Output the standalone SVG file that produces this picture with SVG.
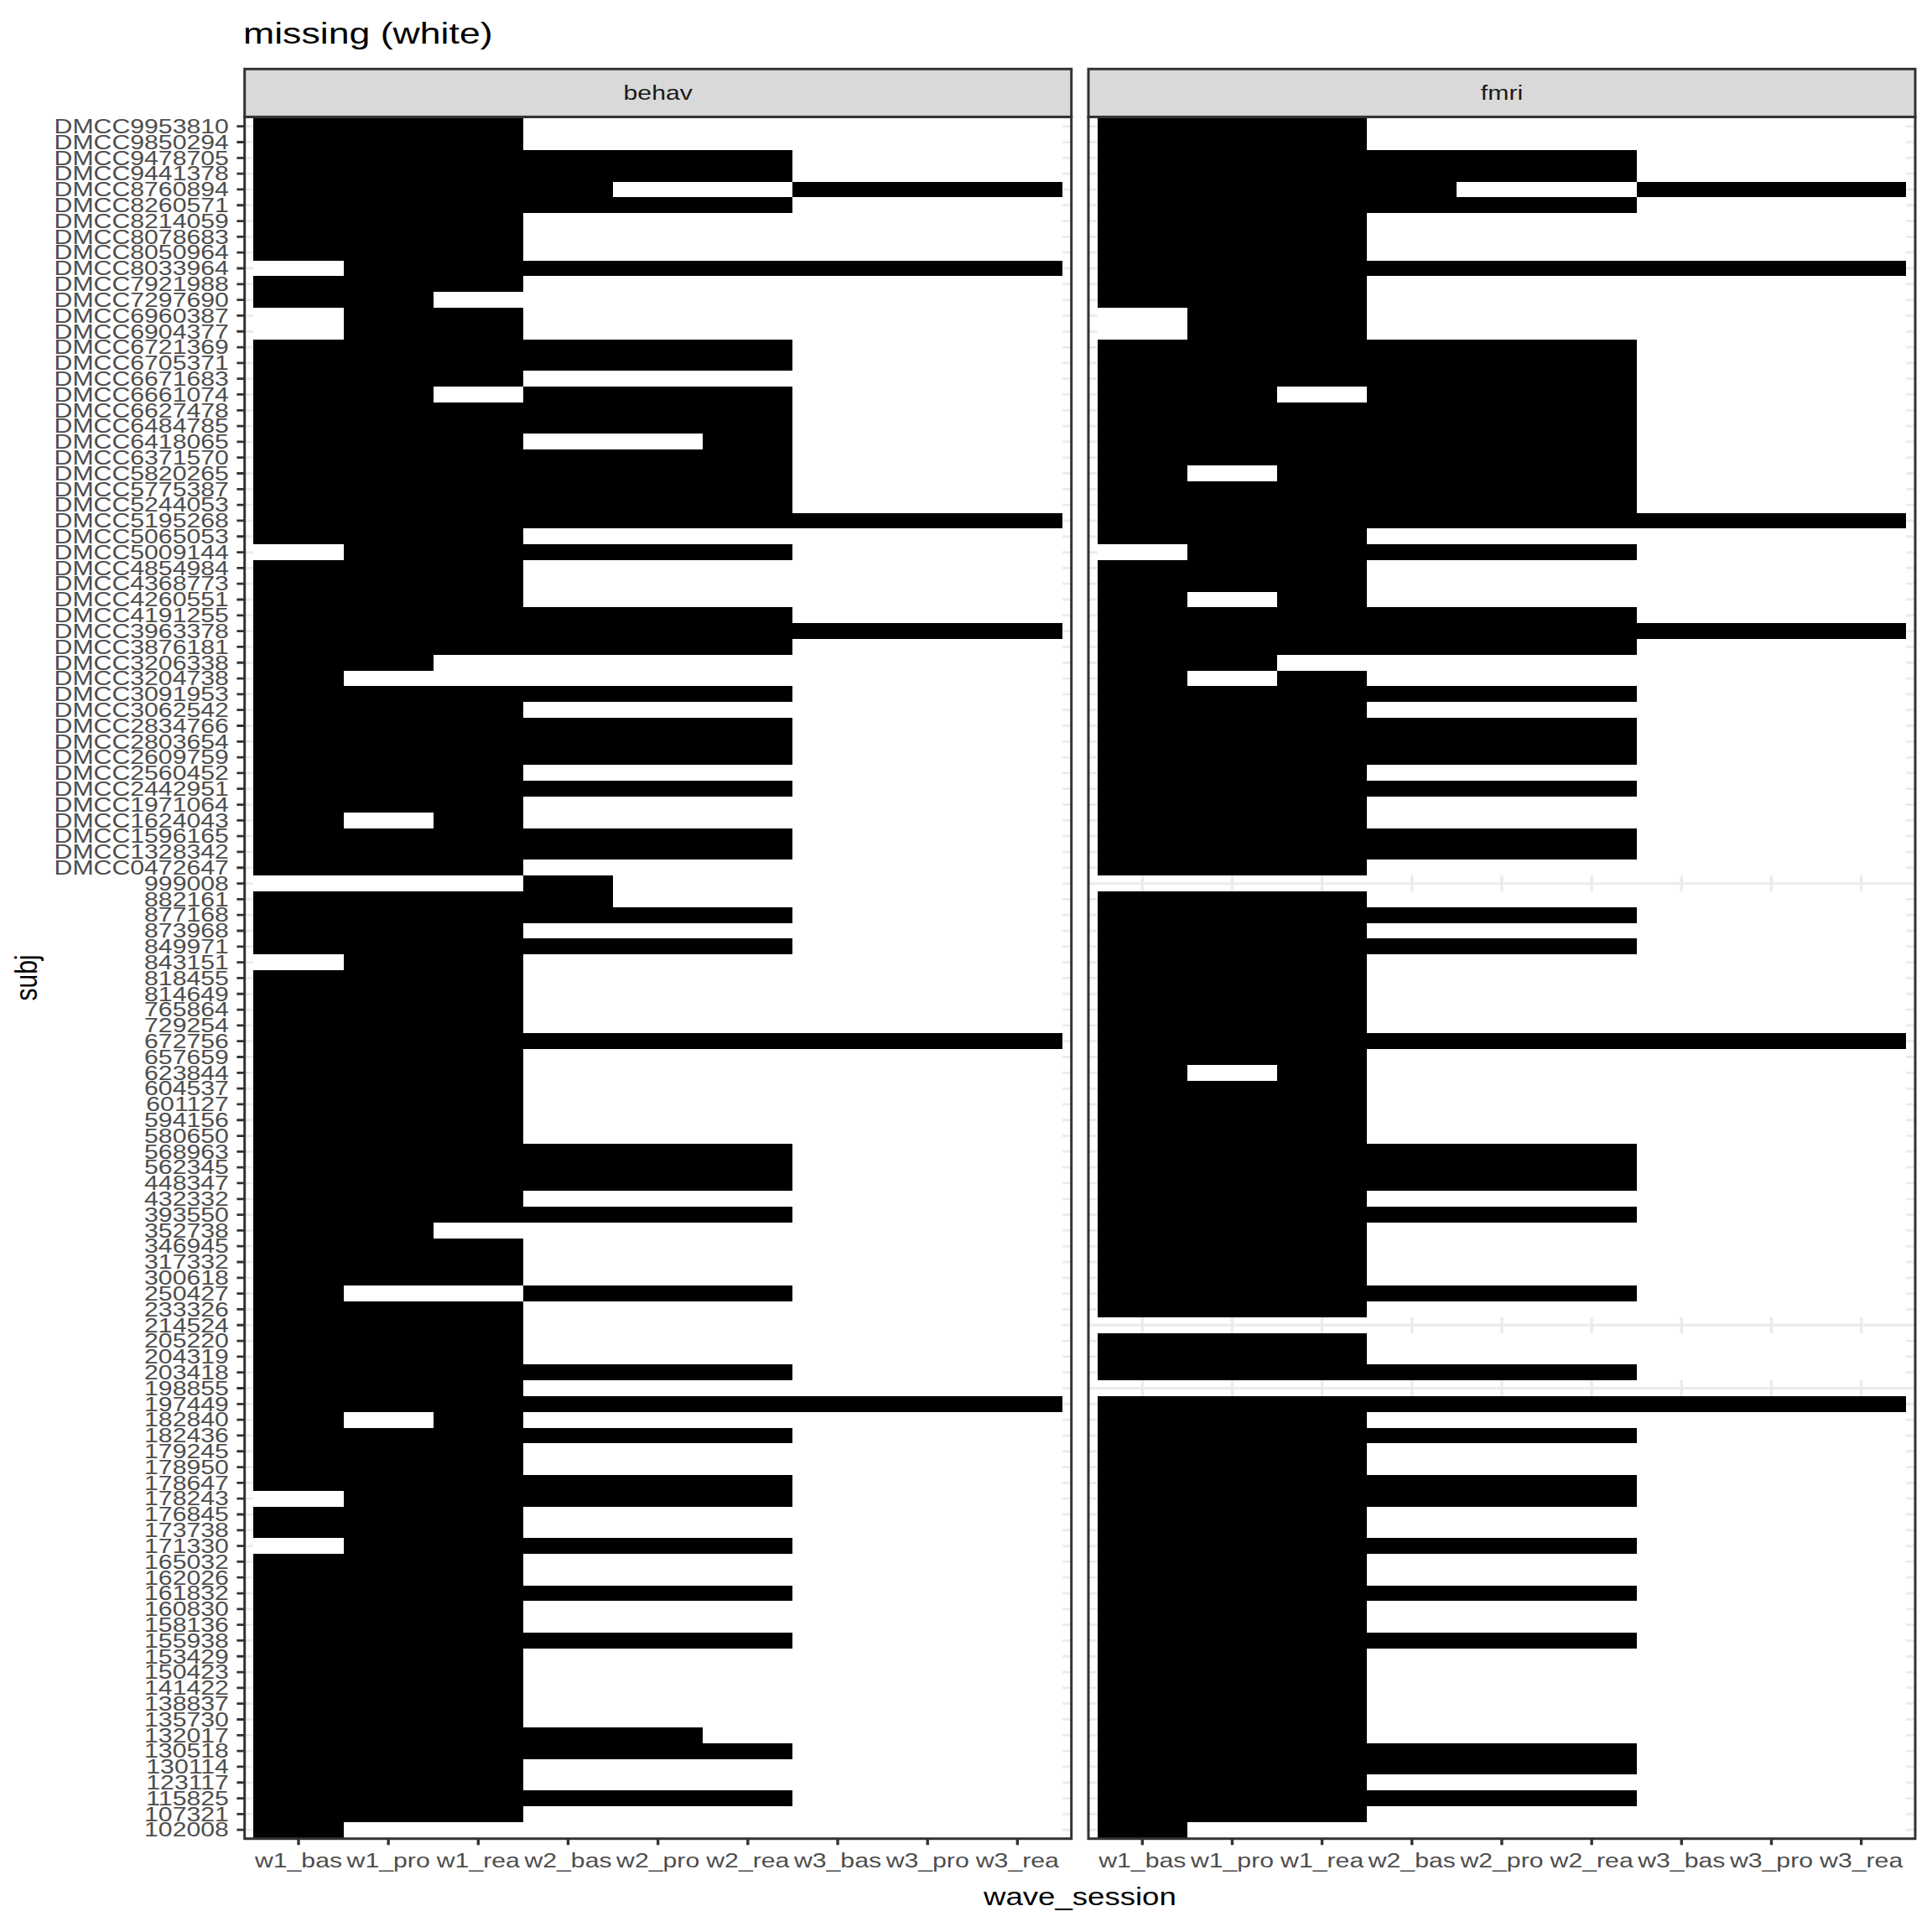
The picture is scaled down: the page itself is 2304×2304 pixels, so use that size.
<svg xmlns="http://www.w3.org/2000/svg" xmlns:xlink="http://www.w3.org/1999/xlink" width="2304" height="2304" viewBox="0 0 2304 2304">
<style>
text{font-family:"Liberation Sans",Arial,Helvetica,sans-serif}
.gh{stroke:#EBEBEB;stroke-width:2.8;fill:none}
.gv{stroke:#EBEBEB;stroke-width:3.4;fill:none}
.tk{stroke:#333333;stroke-width:2.8;fill:none}
.tkx{stroke:#333333;stroke-width:3.4;fill:none}
.border{fill:none;stroke:#333333;stroke-width:3}
.strip{fill:#D9D9D9;stroke:#333333;stroke-width:3}
.bg{fill:#FFFFFF}
.tiles rect{fill:#000000}
.tiles rect.w{fill:#FFFFFF}
.ylab text{font-size:24px;fill:#4D4D4D;text-anchor:end}
.xlab text{font-size:24px;fill:#4D4D4D;text-anchor:middle}
.stxt{font-size:24px;fill:#1A1A1A;text-anchor:middle}
.atitle{font-size:30px;fill:#000000;text-anchor:middle}
</style>
<defs>
<path id="rows" d="M0 150.70H986M0 169.51H986M0 188.32H986M0 207.13H986M0 225.94H986M0 244.75H986M0 263.56H986M0 282.37H986M0 301.18H986M0 319.99H986M0 338.80H986M0 357.61H986M0 376.42H986M0 395.23H986M0 414.04H986M0 432.85H986M0 451.66H986M0 470.47H986M0 489.28H986M0 508.09H986M0 526.90H986M0 545.71H986M0 564.52H986M0 583.33H986M0 602.14H986M0 620.95H986M0 639.76H986M0 658.57H986M0 677.38H986M0 696.19H986M0 715.00H986M0 733.81H986M0 752.62H986M0 771.43H986M0 790.24H986M0 809.05H986M0 827.86H986M0 846.67H986M0 865.48H986M0 884.29H986M0 903.10H986M0 921.91H986M0 940.72H986M0 959.53H986M0 978.34H986M0 997.15H986M0 1015.96H986M0 1034.77H986M0 1053.58H986M0 1072.39H986M0 1091.20H986M0 1110.01H986M0 1128.82H986M0 1147.63H986M0 1166.44H986M0 1185.25H986M0 1204.06H986M0 1222.87H986M0 1241.68H986M0 1260.49H986M0 1279.30H986M0 1298.11H986M0 1316.92H986M0 1335.73H986M0 1354.54H986M0 1373.35H986M0 1392.16H986M0 1410.97H986M0 1429.78H986M0 1448.59H986M0 1467.40H986M0 1486.21H986M0 1505.02H986M0 1523.83H986M0 1542.64H986M0 1561.45H986M0 1580.26H986M0 1599.07H986M0 1617.88H986M0 1636.69H986M0 1655.50H986M0 1674.31H986M0 1693.12H986M0 1711.93H986M0 1730.74H986M0 1749.55H986M0 1768.36H986M0 1787.17H986M0 1805.98H986M0 1824.79H986M0 1843.60H986M0 1862.41H986M0 1881.22H986M0 1900.03H986M0 1918.84H986M0 1937.65H986M0 1956.46H986M0 1975.27H986M0 1994.08H986M0 2012.89H986M0 2031.70H986M0 2050.51H986M0 2069.32H986M0 2088.13H986M0 2106.94H986M0 2125.75H986M0 2144.56H986M0 2163.37H986M0 2182.18H986"/>
<path id="cols" d="M64.30 139.4V2192.7M171.47 139.4V2192.7M278.64 139.4V2192.7M385.81 139.4V2192.7M492.98 139.4V2192.7M600.15 139.4V2192.7M707.32 139.4V2192.7M814.49 139.4V2192.7M921.66 139.4V2192.7"/>
</defs>
<rect width="2304" height="2304" fill="#FFFFFF"/>

<g id="panel-behav">
<rect class="bg" x="291.7" y="139.4" width="986" height="2053.3"/>
<use xlink:href="#rows" class="gh" transform="translate(291.7,0)"/>
<use xlink:href="#cols" class="gv" transform="translate(291.7,0)"/>
<g class="tiles" transform="translate(302.42,141.29) scale(107.17,18.81)" shape-rendering="crispEdges">
<rect class="w" x="0" y="0" width="9" height="109"/>
<rect x="0" y="0" width="3" height="2"/>
<rect x="0" y="2" width="6" height="2"/>
<rect x="0" y="4" width="4" height="1"/><rect x="6" y="4" width="3" height="1"/>
<rect x="0" y="5" width="6" height="1"/>
<rect x="0" y="6" width="3" height="3"/>
<rect x="1" y="9" width="8" height="1"/>
<rect x="0" y="10" width="3" height="1"/>
<rect x="0" y="11" width="2" height="1"/>
<rect x="1" y="12" width="2" height="2"/>
<rect x="0" y="14" width="6" height="2"/>
<rect x="0" y="16" width="3" height="1"/>
<rect x="0" y="17" width="2" height="1"/><rect x="3" y="17" width="3" height="1"/>
<rect x="0" y="18" width="6" height="2"/>
<rect x="0" y="20" width="3" height="1"/><rect x="5" y="20" width="1" height="1"/>
<rect x="0" y="21" width="6" height="4"/>
<rect x="0" y="25" width="9" height="1"/>
<rect x="0" y="26" width="3" height="1"/>
<rect x="1" y="27" width="5" height="1"/>
<rect x="0" y="28" width="3" height="3"/>
<rect x="0" y="31" width="6" height="1"/>
<rect x="0" y="32" width="9" height="1"/>
<rect x="0" y="33" width="6" height="1"/>
<rect x="0" y="34" width="2" height="1"/>
<rect x="0" y="35" width="1" height="1"/>
<rect x="0" y="36" width="6" height="1"/>
<rect x="0" y="37" width="3" height="1"/>
<rect x="0" y="38" width="6" height="3"/>
<rect x="0" y="41" width="3" height="1"/>
<rect x="0" y="42" width="6" height="1"/>
<rect x="0" y="43" width="3" height="1"/>
<rect x="0" y="44" width="1" height="1"/><rect x="2" y="44" width="1" height="1"/>
<rect x="0" y="45" width="6" height="2"/>
<rect x="0" y="47" width="3" height="1"/>
<rect x="3" y="48" width="1" height="1"/>
<rect x="0" y="49" width="4" height="1"/>
<rect x="0" y="50" width="6" height="1"/>
<rect x="0" y="51" width="3" height="1"/>
<rect x="0" y="52" width="6" height="1"/>
<rect x="1" y="53" width="2" height="1"/>
<rect x="0" y="54" width="3" height="4"/>
<rect x="0" y="58" width="9" height="1"/>
<rect x="0" y="59" width="3" height="6"/>
<rect x="0" y="65" width="6" height="3"/>
<rect x="0" y="68" width="3" height="1"/>
<rect x="0" y="69" width="6" height="1"/>
<rect x="0" y="70" width="2" height="1"/>
<rect x="0" y="71" width="3" height="3"/>
<rect x="0" y="74" width="1" height="1"/><rect x="3" y="74" width="3" height="1"/>
<rect x="0" y="75" width="3" height="4"/>
<rect x="0" y="79" width="6" height="1"/>
<rect x="0" y="80" width="3" height="1"/>
<rect x="0" y="81" width="9" height="1"/>
<rect x="0" y="82" width="1" height="1"/><rect x="2" y="82" width="1" height="1"/>
<rect x="0" y="83" width="6" height="1"/>
<rect x="0" y="84" width="3" height="2"/>
<rect x="0" y="86" width="6" height="1"/>
<rect x="1" y="87" width="5" height="1"/>
<rect x="0" y="88" width="3" height="2"/>
<rect x="1" y="90" width="5" height="1"/>
<rect x="0" y="91" width="3" height="2"/>
<rect x="0" y="93" width="6" height="1"/>
<rect x="0" y="94" width="3" height="2"/>
<rect x="0" y="96" width="6" height="1"/>
<rect x="0" y="97" width="3" height="5"/>
<rect x="0" y="102" width="5" height="1"/>
<rect x="0" y="103" width="6" height="1"/>
<rect x="0" y="104" width="3" height="2"/>
<rect x="0" y="106" width="6" height="1"/>
<rect x="0" y="107" width="3" height="1"/>
<rect x="0" y="108" width="1" height="1"/>
</g>
<rect class="border" x="291.7" y="139.4" width="986" height="2053.3"/>
</g>

<g id="panel-fmri">
<rect class="bg" x="1298" y="139.4" width="986" height="2053.3"/>
<use xlink:href="#rows" class="gh" transform="translate(1298,0)"/>
<use xlink:href="#cols" class="gv" transform="translate(1298,0)"/>
<g class="tiles" transform="translate(1308.72,141.29) scale(107.17,18.81)" shape-rendering="crispEdges">
<rect class="w" x="0" y="0" width="9" height="48"/>
<rect class="w" x="0" y="49" width="9" height="27"/>
<rect class="w" x="0" y="77" width="9" height="3"/>
<rect class="w" x="0" y="81" width="9" height="28"/>
<rect x="0" y="0" width="3" height="2"/>
<rect x="0" y="2" width="6" height="2"/>
<rect x="0" y="4" width="4" height="1"/><rect x="6" y="4" width="3" height="1"/>
<rect x="0" y="5" width="6" height="1"/>
<rect x="0" y="6" width="3" height="3"/>
<rect x="0" y="9" width="9" height="1"/>
<rect x="0" y="10" width="3" height="2"/>
<rect x="1" y="12" width="2" height="2"/>
<rect x="0" y="14" width="6" height="3"/>
<rect x="0" y="17" width="2" height="1"/><rect x="3" y="17" width="3" height="1"/>
<rect x="0" y="18" width="6" height="4"/>
<rect x="0" y="22" width="1" height="1"/><rect x="2" y="22" width="4" height="1"/>
<rect x="0" y="23" width="6" height="2"/>
<rect x="0" y="25" width="9" height="1"/>
<rect x="0" y="26" width="3" height="1"/>
<rect x="1" y="27" width="5" height="1"/>
<rect x="0" y="28" width="3" height="2"/>
<rect x="0" y="30" width="1" height="1"/><rect x="2" y="30" width="1" height="1"/>
<rect x="0" y="31" width="6" height="1"/>
<rect x="0" y="32" width="9" height="1"/>
<rect x="0" y="33" width="6" height="1"/>
<rect x="0" y="34" width="2" height="1"/>
<rect x="0" y="35" width="1" height="1"/><rect x="2" y="35" width="1" height="1"/>
<rect x="0" y="36" width="6" height="1"/>
<rect x="0" y="37" width="3" height="1"/>
<rect x="0" y="38" width="6" height="3"/>
<rect x="0" y="41" width="3" height="1"/>
<rect x="0" y="42" width="6" height="1"/>
<rect x="0" y="43" width="3" height="2"/>
<rect x="0" y="45" width="6" height="2"/>
<rect x="0" y="47" width="3" height="1"/>
<rect x="0" y="49" width="3" height="1"/>
<rect x="0" y="50" width="6" height="1"/>
<rect x="0" y="51" width="3" height="1"/>
<rect x="0" y="52" width="6" height="1"/>
<rect x="0" y="53" width="3" height="5"/>
<rect x="0" y="58" width="9" height="1"/>
<rect x="0" y="59" width="3" height="1"/>
<rect x="0" y="60" width="1" height="1"/><rect x="2" y="60" width="1" height="1"/>
<rect x="0" y="61" width="3" height="4"/>
<rect x="0" y="65" width="6" height="3"/>
<rect x="0" y="68" width="3" height="1"/>
<rect x="0" y="69" width="6" height="1"/>
<rect x="0" y="70" width="3" height="4"/>
<rect x="0" y="74" width="6" height="1"/>
<rect x="0" y="75" width="3" height="1"/>
<rect x="0" y="77" width="3" height="2"/>
<rect x="0" y="79" width="6" height="1"/>
<rect x="0" y="81" width="9" height="1"/>
<rect x="0" y="82" width="3" height="1"/>
<rect x="0" y="83" width="6" height="1"/>
<rect x="0" y="84" width="3" height="2"/>
<rect x="0" y="86" width="6" height="2"/>
<rect x="0" y="88" width="3" height="2"/>
<rect x="0" y="90" width="6" height="1"/>
<rect x="0" y="91" width="3" height="2"/>
<rect x="0" y="93" width="6" height="1"/>
<rect x="0" y="94" width="3" height="2"/>
<rect x="0" y="96" width="6" height="1"/>
<rect x="0" y="97" width="3" height="6"/>
<rect x="0" y="103" width="6" height="2"/>
<rect x="0" y="105" width="3" height="1"/>
<rect x="0" y="106" width="6" height="1"/>
<rect x="0" y="107" width="3" height="1"/>
<rect x="0" y="108" width="1" height="1"/>
</g>
<rect class="border" x="1298" y="139.4" width="986" height="2053.3"/>
</g>

<g id="strip-behav">
<rect class="strip" x="291.7" y="82.3" width="986" height="57.1"/>
<text class="stxt" transform="translate(784.7,119.4) scale(1.26,1)">behav</text>
</g>
<g id="strip-fmri">
<rect class="strip" x="1298" y="82.3" width="986" height="57.1"/>
<text class="stxt" transform="translate(1791,119.4) scale(1.26,1)">fmri</text>
</g>

<g id="axis-y">
<use xlink:href="#rows" class="tk" transform="translate(282.4,0) scale(0.00943,1)"/>
<g class="ylab" transform="scale(1.26,1)">
<text x="216.6" y="159.00">DMCC9953810</text>
<text x="216.6" y="177.81">DMCC9850294</text>
<text x="216.6" y="196.62">DMCC9478705</text>
<text x="216.6" y="215.43">DMCC9441378</text>
<text x="216.6" y="234.24">DMCC8760894</text>
<text x="216.6" y="253.05">DMCC8260571</text>
<text x="216.6" y="271.86">DMCC8214059</text>
<text x="216.6" y="290.67">DMCC8078683</text>
<text x="216.6" y="309.48">DMCC8050964</text>
<text x="216.6" y="328.29">DMCC8033964</text>
<text x="216.6" y="347.10">DMCC7921988</text>
<text x="216.6" y="365.91">DMCC7297690</text>
<text x="216.6" y="384.72">DMCC6960387</text>
<text x="216.6" y="403.53">DMCC6904377</text>
<text x="216.6" y="422.34">DMCC6721369</text>
<text x="216.6" y="441.15">DMCC6705371</text>
<text x="216.6" y="459.96">DMCC6671683</text>
<text x="216.6" y="478.77">DMCC6661074</text>
<text x="216.6" y="497.58">DMCC6627478</text>
<text x="216.6" y="516.39">DMCC6484785</text>
<text x="216.6" y="535.20">DMCC6418065</text>
<text x="216.6" y="554.01">DMCC6371570</text>
<text x="216.6" y="572.82">DMCC5820265</text>
<text x="216.6" y="591.63">DMCC5775387</text>
<text x="216.6" y="610.44">DMCC5244053</text>
<text x="216.6" y="629.25">DMCC5195268</text>
<text x="216.6" y="648.06">DMCC5065053</text>
<text x="216.6" y="666.87">DMCC5009144</text>
<text x="216.6" y="685.68">DMCC4854984</text>
<text x="216.6" y="704.49">DMCC4368773</text>
<text x="216.6" y="723.30">DMCC4260551</text>
<text x="216.6" y="742.11">DMCC4191255</text>
<text x="216.6" y="760.92">DMCC3963378</text>
<text x="216.6" y="779.73">DMCC3876181</text>
<text x="216.6" y="798.54">DMCC3206338</text>
<text x="216.6" y="817.35">DMCC3204738</text>
<text x="216.6" y="836.16">DMCC3091953</text>
<text x="216.6" y="854.97">DMCC3062542</text>
<text x="216.6" y="873.78">DMCC2834766</text>
<text x="216.6" y="892.59">DMCC2803654</text>
<text x="216.6" y="911.40">DMCC2609759</text>
<text x="216.6" y="930.21">DMCC2560452</text>
<text x="216.6" y="949.02">DMCC2442951</text>
<text x="216.6" y="967.83">DMCC1971064</text>
<text x="216.6" y="986.64">DMCC1624043</text>
<text x="216.6" y="1005.45">DMCC1596165</text>
<text x="216.6" y="1024.26">DMCC1328342</text>
<text x="216.6" y="1043.07">DMCC0472647</text>
<text x="216.6" y="1061.88">999008</text>
<text x="216.6" y="1080.69">882161</text>
<text x="216.6" y="1099.50">877168</text>
<text x="216.6" y="1118.31">873968</text>
<text x="216.6" y="1137.12">849971</text>
<text x="216.6" y="1155.93">843151</text>
<text x="216.6" y="1174.74">818455</text>
<text x="216.6" y="1193.55">814649</text>
<text x="216.6" y="1212.36">765864</text>
<text x="216.6" y="1231.17">729254</text>
<text x="216.6" y="1249.98">672756</text>
<text x="216.6" y="1268.79">657659</text>
<text x="216.6" y="1287.60">623844</text>
<text x="216.6" y="1306.41">604537</text>
<text x="216.6" y="1325.22">601127</text>
<text x="216.6" y="1344.03">594156</text>
<text x="216.6" y="1362.84">580650</text>
<text x="216.6" y="1381.65">568963</text>
<text x="216.6" y="1400.46">562345</text>
<text x="216.6" y="1419.27">448347</text>
<text x="216.6" y="1438.08">432332</text>
<text x="216.6" y="1456.89">393550</text>
<text x="216.6" y="1475.70">352738</text>
<text x="216.6" y="1494.51">346945</text>
<text x="216.6" y="1513.32">317332</text>
<text x="216.6" y="1532.13">300618</text>
<text x="216.6" y="1550.94">250427</text>
<text x="216.6" y="1569.75">233326</text>
<text x="216.6" y="1588.56">214524</text>
<text x="216.6" y="1607.37">205220</text>
<text x="216.6" y="1626.18">204319</text>
<text x="216.6" y="1644.99">203418</text>
<text x="216.6" y="1663.80">198855</text>
<text x="216.6" y="1682.61">197449</text>
<text x="216.6" y="1701.42">182840</text>
<text x="216.6" y="1720.23">182436</text>
<text x="216.6" y="1739.04">179245</text>
<text x="216.6" y="1757.85">178950</text>
<text x="216.6" y="1776.66">178647</text>
<text x="216.6" y="1795.47">178243</text>
<text x="216.6" y="1814.28">176845</text>
<text x="216.6" y="1833.09">173738</text>
<text x="216.6" y="1851.90">171330</text>
<text x="216.6" y="1870.71">165032</text>
<text x="216.6" y="1889.52">162026</text>
<text x="216.6" y="1908.33">161832</text>
<text x="216.6" y="1927.14">160830</text>
<text x="216.6" y="1945.95">158136</text>
<text x="216.6" y="1964.76">155938</text>
<text x="216.6" y="1983.57">153429</text>
<text x="216.6" y="2002.38">150423</text>
<text x="216.6" y="2021.19">141422</text>
<text x="216.6" y="2040.00">138837</text>
<text x="216.6" y="2058.81">135730</text>
<text x="216.6" y="2077.62">132017</text>
<text x="216.6" y="2096.43">130518</text>
<text x="216.6" y="2115.24">130114</text>
<text x="216.6" y="2134.05">123117</text>
<text x="216.6" y="2152.86">115825</text>
<text x="216.6" y="2171.67">107321</text>
<text x="216.6" y="2190.48">102008</text>
</g>
</g>

<g id="axis-x">
<path class="tkx" d="M356.00 2192.7V2200.3M463.17 2192.7V2200.3M570.34 2192.7V2200.3M677.51 2192.7V2200.3M784.68 2192.7V2200.3M891.85 2192.7V2200.3M999.02 2192.7V2200.3M1106.19 2192.7V2200.3M1213.36 2192.7V2200.3M1362.30 2192.7V2200.3M1469.47 2192.7V2200.3M1576.64 2192.7V2200.3M1683.81 2192.7V2200.3M1790.98 2192.7V2200.3M1898.15 2192.7V2200.3M2005.32 2192.7V2200.3M2112.49 2192.7V2200.3M2219.66 2192.7V2200.3"/>
<g class="xlab" transform="scale(1.26,1)">
<text x="282.54" y="2227">w1_bas</text>
<text x="367.60" y="2227">w1_pro</text>
<text x="452.65" y="2227">w1_rea</text>
<text x="537.71" y="2227">w2_bas</text>
<text x="622.76" y="2227">w2_pro</text>
<text x="707.82" y="2227">w2_rea</text>
<text x="792.87" y="2227">w3_bas</text>
<text x="877.93" y="2227">w3_pro</text>
<text x="962.98" y="2227">w3_rea</text>
<text x="1081.19" y="2227">w1_bas</text>
<text x="1166.25" y="2227">w1_pro</text>
<text x="1251.30" y="2227">w1_rea</text>
<text x="1336.36" y="2227">w2_bas</text>
<text x="1421.41" y="2227">w2_pro</text>
<text x="1506.47" y="2227">w2_rea</text>
<text x="1591.52" y="2227">w3_bas</text>
<text x="1676.58" y="2227">w3_pro</text>
<text x="1761.63" y="2227">w3_rea</text>
</g>
</g>

<g id="titles">
<text transform="translate(290,51.7) scale(1.24,1)" style="font-size:36px;fill:#000000">missing (white)</text>
<text class="atitle" transform="translate(1287.9,2272) scale(1.22,1)">wave_session</text>
<text class="atitle" transform="translate(44,1166) scale(1.22,1) rotate(-90)">subj</text>
</g>
</svg>
